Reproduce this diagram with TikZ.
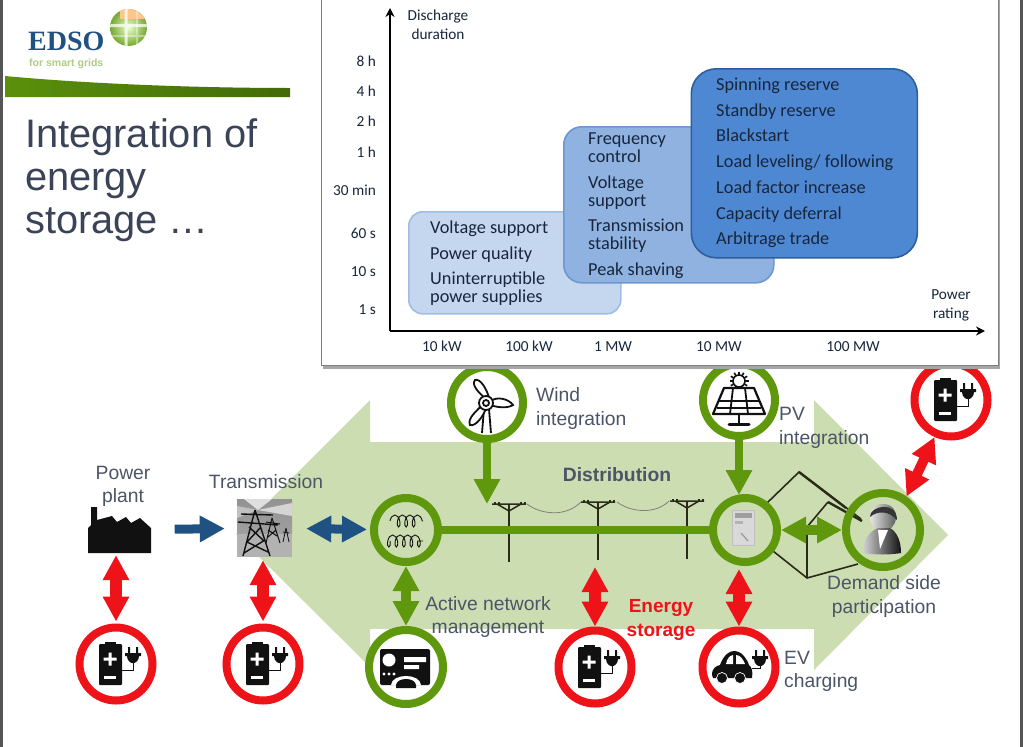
\documentclass[tikz,border=0pt]{standalone}
\usepackage{fontspec}
\setmainfont{Liberation Sans}
\newfontfamily\chartfont{Carlito}
\newfontfamily\logofont{Liberation Serif}
\definecolor{gridgreen}{HTML}{5F980C}
\definecolor{palegreen}{HTML}{CCDDB1}
\definecolor{alertred}{HTML}{EE1219}
\definecolor{linkblue}{HTML}{1F5183}
\definecolor{slategray}{HTML}{4B5567}
\definecolor{titlegray}{HTML}{3A4357}
\definecolor{iconblack}{HTML}{111111}
\definecolor{polebrown}{HTML}{2A2A18}
\definecolor{chartink}{HTML}{17263C}
\definecolor{lowfill}{HTML}{C5D7EF}
\definecolor{lowedge}{HTML}{9FBDE4}
\definecolor{midfill}{HTML}{8FB2E1}
\definecolor{midedge}{HTML}{6B98D3}
\definecolor{topfill}{HTML}{4F88D2}
\definecolor{topedge}{HTML}{2D5E9E}
\definecolor{edgegray}{HTML}{555555}
\usetikzlibrary{arrows.meta,positioning,calc,shadings,decorations.pathmorphing}
\tikzset{
  bigtip/.tip={Triangle[length=25pt,width=25pt]},
  greenring/.style={circle,draw=gridgreen,line width=8pt,minimum size=#1,inner sep=0pt},
  greenring/.default=64pt,
  redring/.style={circle,draw=alertred,fill=white,line width=8pt,minimum size=73pt,inner sep=0pt},
  redlink/.style={bigtip-bigtip,alertred,line width=12pt},
  greenlink/.style={bigtip-bigtip,gridgreen,line width=10pt},
  greendrop/.style={-bigtip,gridgreen,line width=8pt},
  bluelink/.style={linkblue,line width=9pt},
  sidelabel/.style={slategray,inner sep=0pt,align=center,font=\fontsize{19.3}{23.5}\selectfont},
  boxtext/.style={chartink,anchor=west,inner sep=0pt,text height=12pt,text depth=4pt,font=\chartfont\fontsize{18.3}{18}\selectfont},
  axistext/.style={chartink,inner sep=0pt,align=center,font=\chartfont\fontsize{15.3}{19}\selectfont},
  storagebox/.style={rounded corners=#1,line width=1.6pt,anchor=north west,inner sep=0pt},
  pics/plugicon/.style={code={
    \fill[iconblack] (-5,-17) rectangle (-3,-11) (3,-17) rectangle (5,-11);
    \fill[iconblack] (-8,-11) -- (8,-11) -- (8,-8) -- (6,-8) .. controls (6,-3) and (2,-1) .. (1,-1)
      -- (-1,-1) .. controls (-2,-1) and (-6,-3) .. (-6,-8) -- (-8,-8) -- cycle;
  }},
  pics/batteryicon/.style={code={
    \fill[iconblack,rounded corners=1pt] (-17,-20) rectangle (6,21);
    \fill[iconblack] (-11,-22) rectangle (0,-19);
    \fill[white] (-12.5,-6.5) rectangle (0.5,-3.5) (-7.5,-11.5) rectangle (-4.5,1.5);
    \fill[white] (-12,11.5) rectangle (0,14.5);
    \draw[iconblack,line width=1pt] (17,-1) -- (17,6) -- (6,6);
    \pic at (17,0) {plugicon};
  }},
  pics/utilitypole/.style={code={
    \draw[polebrown,line width=1.8pt] (0,0) -- (0,58);
    \draw[polebrown,line width=1.5pt] (-17,0) -- (17,0) (-12,0) -- (0,7) -- (12,0);
    \foreach \cap in {-15,-11,11,15} \fill[polebrown] (\cap,-2) rectangle ++(1.6,2);
  }}
}
\begin{document}
\begin{tikzpicture}[x=1pt,y=-1pt]
  \useasboundingbox (0,0) rectangle (1023,747);
  \fill[white] (0,0) rectangle (1023,747);
  % pale double arrow behind the network
  \fill[palegreen] (236,534) -- (370,400) -- (370,442) -- (814,442) -- (814,400) -- (948,535)
    -- (814,670) -- (814,629) -- (370,629) -- (370,667) -- cycle;
  % house outline
  \draw[polebrown,line width=1.6pt] (767,503) -- (799,472) -- (861,519) (828,502) -- (807,527) -- (807,578)
    (773,551) -- (807,578) -- (858,564);
  \draw[polebrown,line width=2.4pt] (799,472) -- (846,508) (828,502) -- (862,521);
  % poles and their wires
  \draw[gray,line width=0.8pt] (527,504) .. controls (540,514) and (565,518) .. (581,502);
  \draw[gray,line width=0.8pt] (617,502) .. controls (630,512) and (655,515) .. (669,501);
  \pic at (509,504) {utilitypole};
  \pic at (598,502) {utilitypole};
  \pic at (687,501) {utilitypole};
  % grid nodes
  \node[greenring] (transformer) at (406,530) {};
  \node[greenring] (meter) at (745,530) {};
  \node[greenring=74pt] (consumer) at (883,530) {};
  \node[greenring=74pt,fill=white] (control) at (406,667) {};
  \node[greenring=72pt,fill=white] (wind) at (487,403) {};
  \node[greenring=72pt,fill=white] (solar) at (739,400) {};
  \node[redring] (storeplant) at (116,664) {};
  \node[redring] (storeline) at (263,664) {};
  \node[redring] (storefeeder) at (595,667) {};
  \node[redring] (storecar) at (739,667) {};
  \node[redring] (storehome) at (951,400) {};
  \node[minimum width=63pt,minimum height=46pt,inner sep=0pt] (plant) at (120,530) {};
  \node[minimum width=55pt,minimum height=58pt,inner sep=0pt] (pylon) at (264.5,528) {};
  \coordinate (windfeed) at (487,504);
  \coordinate (solarfeed) at (739,495);
  \coordinate (feedertip) at (595,567);
  \coordinate (cartip) at (739,569);
  % bus bar and arrows
  \draw[gridgreen,line width=8pt] (transformer) -- (meter);
  \draw[bluelink,-bigtip,shorten <=23pt,shorten >=12pt] (plant) -- (pylon);
  \draw[bluelink,bigtip-bigtip,shorten <=14pt,shorten >=3pt] (pylon) -- (transformer);
  \draw[greendrop] (wind) -- (windfeed);
  \draw[greendrop] (solar) -- (solarfeed);
  \draw[greenlink] (control) -- (transformer);
  \draw[greenlink] (meter) -- (consumer);
  \draw[redlink,shorten <=2pt,shorten >=2pt] (storeplant |- plant.south) -- (storeplant);
  \draw[redlink,shorten <=3pt,shorten >=2pt] (storeline |- pylon.south) -- (storeline);
  \draw[redlink] (storefeeder) -- (feedertip);
  \draw[redlink] (storecar) -- (cartip);
  \draw[redlink,line width=10pt] (consumer.55) -- (storehome.-114);
  % battery symbols
  \pic at (116,664) {batteryicon};
  \pic at (263,664) {batteryicon};
  \pic at (595,667) {batteryicon};
  \pic at (951,400) {batteryicon};
  % car with charging plug
  \begin{scope}[shift={(739,667)}]
    \fill[iconblack] (-27,8) .. controls (-27,1) and (-23,-1) .. (-19,-2) .. controls (-15,-13) and (-9,-16) .. (-5,-16)
      .. controls (3,-16) and (8,-8) .. (10,-2) .. controls (13,0) and (14,5) .. (13,11) -- (-26,11) -- cycle;
    \fill[white] (-13,-3) .. controls (-12,-8) and (-10,-11) .. (-6,-12) -- (-6,-3) -- cycle;
    \fill[white] (-3,-12) .. controls (1,-12) and (4,-8) .. (6,-3) -- (-3,-3) -- cycle;
    \fill[iconblack,draw=white,line width=0.7pt] (-17,11) circle (5.5pt) (1,11) circle (5.5pt);
    \draw[iconblack,line width=1pt] (21,-1) -- (21,1) -- (13,1);
    \pic at (21,0) {plugicon};
  \end{scope}
  % transformer coils
  \draw[iconblack,line width=0.9pt,decorate,decoration={coil,aspect=0.5,segment length=7.5pt,amplitude=6pt}] (390,521) -- (423,521);
  \draw[iconblack,line width=0.9pt,decorate,decoration={coil,aspect=0.5,segment length=7.5pt,amplitude=-6pt}] (390,541) -- (423,541);
  % control desk
  \begin{scope}[shift={(406,667)}]
    \fill[iconblack,rounded corners=2pt] (-26,-18) rectangle (24,18);
    \fill[white] (-17,-7) circle (6.5pt);
    \fill[white] (-2,-10) rectangle (20,-5) (-2,-2) rectangle (13,2);
    \foreach \dotx in {-22,-17,-12} \fill[white] (\dotx,7) circle (1.6pt);
    \fill[white] (-15,18) .. controls (-14,6) and (14,6) .. (15,18) -- cycle;
    \fill[iconblack] (-10,18) .. controls (-9,10) and (9,10) .. (10,18) -- (10,21) -- (-10,21) -- cycle;
  \end{scope}
  % turbine
  \begin{scope}[shift={(487,403)},iconblack,line width=1.8pt]
    \draw (-3,6) -- (-5,30) (2,6) -- (4,30);
    \draw[fill=white] (-2,-5) .. controls (-8,-10) and (-16,-18) .. (-12,-23) .. controls (-7,-25) and (0,-14) .. (2,-5);
    \draw[fill=white] (4,-2) .. controls (10,-7) and (22,-4) .. (26,2) .. controls (20,6) and (8,4) .. (4,2);
    \draw[fill=white] (-5,2) .. controls (-10,8) and (-20,15) .. (-17,22) .. controls (-11,24) and (-3,12) .. (-1,5);
    \draw[fill=white] (-1,0) circle (7pt);
    \draw (-1,0) circle (3pt);
  \end{scope}
  % solar panel
  \begin{scope}[shift={(739,400)},iconblack]
    \foreach \ang in {0,30,...,330} \draw[line width=1.6pt] (0,-19) -- ++(\ang:9.5pt);
    \draw[line width=1.6pt,fill=white] (0,-19) circle (6pt);
    \draw[line width=2.2pt,fill=white,line join=round] (-15,-12) -- (15,-12) -- (26,14) -- (-26,14) -- cycle;
    \draw[line width=1.8pt] (-20,1) -- (20,1) (-22,8) -- (22,8) (-6,-12) -- (-9,14) (6,-12) -- (9,14);
    \draw[line width=2.4pt] (0,14) -- (0,23);
    \draw[line width=3pt,line cap=round] (-10,24) -- (10,24);
  \end{scope}
  % smart meter
  \fill[gray!50] (732,510) rectangle (755,546);
  \fill[gray!30] (733,511) rectangle (754,545);
  \fill[gray!75] (735,513) rectangle (752,518);
  \fill[gray!60] (735,521) rectangle (743,524);
  \draw[gray!75,line width=1.4pt] (741,533) -- (748,541);
  % customer figure
  \shade[left color=gray!15,right color=gray!70!black] (883,504) .. controls (892,504) and (897,511) .. (896,518) .. controls (895,526) and (890,531) .. (883,531)
    .. controls (876,531) and (871,526) .. (870,518) .. controls (869,511) and (874,504) .. (883,504) -- cycle;
  \fill[iconblack!85!white] (870,517) .. controls (869,506) and (897,500) .. (897,520) .. controls (889,511) and (878,510) .. (870,517) -- cycle;
  \shade[left color=gray!35,right color=iconblack] (863,553) .. controls (863,541) and (868,532) .. (878,528) -- (890,528)
    .. controls (897,532) and (901,541) .. (901,553) .. controls (890,555) and (875,555) .. (863,553) -- cycle;
  \fill[white] (878,530) -- (888,530) -- (880,549) -- cycle;
  % factory silhouette
  \fill[iconblack] (88,553) -- (88,528) -- (91,525) -- (91,507) -- (97,507) -- (97,520) -- (112,516) -- (117,522)
    -- (126,517) -- (131,523) -- (140,518) -- (151,528) -- (151,553) -- cycle;
  % transmission picture
  \shade[top color=gray!85,bottom color=gray!75] (237,499) rectangle (292,534);
  \fill[white,opacity=0.6] (258,510) -- (292,503) -- (292,516) -- cycle;
  \fill[white,opacity=0.7] (258,510) -- (244,499) -- (272,499) -- cycle;
  \fill[white,opacity=0.4] (258,510) -- (237,506) -- (237,518) -- cycle;
  \fill[gray!60] (237,534) rectangle (292,557);
  \begin{scope}[iconblack,line width=1.4pt]
    \draw (255,510) -- (243,556) (255,510) -- (270,556) (241,514) -- (273,515) (238,522) -- (278,525)
      (249,527) -- (263,540) (261,527) -- (247,542) (247,542) -- (268,552) (265,540) -- (244,553);
    \draw[line width=1pt] (272,518) -- (266,543) (272,518) -- (280,543) (266,522) -- (280,524) (268,530) -- (277,536) (276,530) -- (268,537);
    \draw[line width=0.8pt] (286,528) -- (283,542) (286,528) -- (289,542) (283,532) -- (289,533);
  \end{scope}
  % side labels
  \node[sidelabel] (plantlabel) at (123,486.5) {Power\\plant};
  \node[sidelabel] (linelabel) at (266,482) {Transmission};
  \node[sidelabel,align=left,anchor=west] (windlabel) at (536,408.5) {Wind\\integration};
  \node[sidelabel,align=left,anchor=west] (pvlabel) at (779,428) {PV\\integration};
  \node[sidelabel,font=\bfseries\fontsize{19.3}{23}\selectfont] (distlabel) at (617,475) {Distribution};
  \node[sidelabel] (controllabel) at (488,617) {Active network\\management};
  \node[sidelabel] (demandlabel) at (884,596.5) {Demand side\\participation};
  \node[sidelabel,align=left,anchor=west] (evlabel) at (784,671.5) {EV\\charging};
  \node[sidelabel,text=alertred,font=\bfseries\fontsize{19}{24}\selectfont] (storagelabel) at (661,620) {Energy\\storage};
  % chart panel
  \fill[gray!70] (323,0) rectangle (1000,369);
  \fill[white,draw=gray,line width=0.8pt] (321.5,-2) rectangle (998,365.5);
  \node[storagebox=14pt,fill=lowfill,draw=lowedge,minimum width=212pt,minimum height=102pt] (lowbox) at (408,211) {};
  \node[storagebox=18pt,fill=midfill,draw=midedge,minimum width=210pt,minimum height=156pt] (midbox) at (563,126) {};
  \node[storagebox=25pt,fill=topfill,draw=topedge,minimum width=226pt,minimum height=189pt] (topbox) at (690.5,68) {};
  \draw[-{Stealth[length=9pt,width=9pt]},black,line width=1.8pt] (390,331) -- (390,8);
  \draw[-{Stealth[length=9pt,width=9pt]},black,line width=1.8pt] (390,331) -- (985,331);
  \foreach \ypos/\txt [count=\i] in {229/Voltage support,255/Power quality,280/Uninterruptible,298/power supplies}
    \node[boxtext] (low\i) at (430,\ypos) {\txt};
  \foreach \ypos/\txt [count=\i] in {140/Frequency,158/control,184/Voltage,202/support,227/Transmission,245/stability,271/Peak shaving}
    \node[boxtext] (mid\i) at (588,\ypos) {\txt};
  \foreach \ypos/\txt [count=\i] in {86/Spinning reserve,112/Standby reserve,137/Blackstart,163/{Load leveling/ following},189/Load factor increase,215/Capacity deferral,240/Arbitrage trade}
    \node[boxtext] (top\i) at (716,\ypos) {\txt};
  \foreach \ypos/\txt [count=\i] in {61/8 h,91/4 h,121/2 h,152/1 h,190/30 min,233/60 s,272/10 s,310/1 s}
    \node[axistext,anchor=east] (dur\i) at (376,\ypos) {\txt};
  \foreach \xpos/\txt [count=\i] in {442/10 kW,529/100 kW,613/1 MW,719/10 MW,853/100 MW}
    \node[axistext] (rate\i) at (\xpos,346.5) {\txt};
  \node[axistext] (durtitle) at (438,24.5) {Discharge\\duration};
  \node[axistext] (ratetitle) at (951,305) {Power\\rating};
  % logo block
  \begin{scope}
    \clip (128.5,27.5) circle (18.5pt);
    \shade[inner color=green!25!lime!20!white,outer color=gridgreen!85!white] (128.5,27.5) circle (18.5pt);
    \fill[orange!45!white] (120,8) rectangle (145,19);
    \fill[white,opacity=0.75] (124.5,8) rectangle (127.5,47) (108,24) rectangle (149,27);
    \fill[white,opacity=0.4] (136,8) rectangle (138,47) (108,35) rectangle (149,37);
  \end{scope}
  \node[anchor=west,inner sep=0pt,text=linkblue,font=\logofont\bfseries\fontsize{28}{30}\selectfont] (edso) at (28,41.5) {EDSO};
  \node[anchor=west,inner sep=0pt,text=gridgreen!50!white,font=\bfseries\fontsize{10.5}{12}\selectfont] (tagline) at (29,64) {for smart grids};
  \shade[left color=gridgreen!95!black,right color=gridgreen!70!black] (5,76) .. controls (90,84) and (200,88) .. (290,88) -- (290,97) -- (5,97) -- cycle;
  \node[anchor=north west,inner sep=0pt,align=left,text=titlegray,font=\fontsize{39.8}{43}\selectfont] (title) at (25,118) {Integration of\\energy\\storage \dots};
  % window edges
  \fill[edgegray] (0,0) rectangle (3,747);
  \fill[edgegray] (1020,0) rectangle (1023,747);
\end{tikzpicture}
\end{document}
